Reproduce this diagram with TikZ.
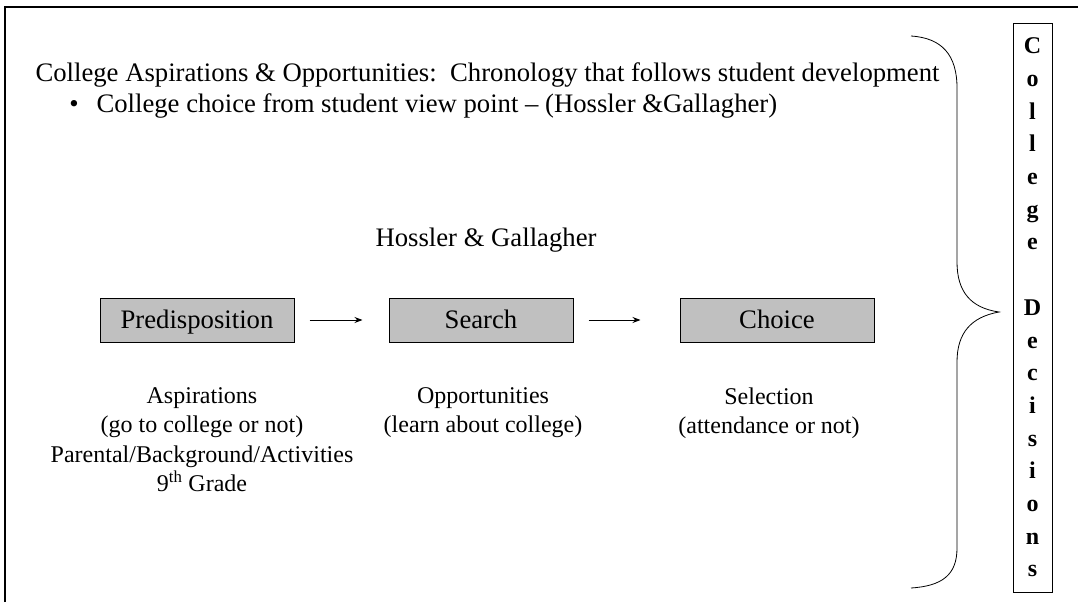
\documentclass[tikz,border=0pt]{standalone}
\usepackage{fontspec}
\setmainfont{Liberation Serif}
\usetikzlibrary{arrows.meta}
\definecolor{boxgray}{RGB}{192,192,192}
\begin{document}
\begin{tikzpicture}[x=1pt,y=-1pt,
    every node/.style={font=\fontsize{26.7}{30}\selectfont},
    stage/.style={draw,line width=1pt,fill=boxgray,minimum height=44,inner sep=0,
      text height=20pt,text depth=4pt},
    note/.style={align=center,anchor=north,font=\fontsize{24}{29.5}\selectfont},
    flow/.style={line width=1pt,-{Stealth[length=8pt,width=6pt]},shorten <=15pt}]
  \useasboundingbox (0,0) rectangle (1078,602);
  \draw[line width=2pt] (5,602) -- (5,7) -- (1078,7);
  \node[anchor=west] (title) at (32,75) {College Aspirations \& Opportunities:\ \ Chronology that follows student development};
  \node (dot) at (74,106) {\textbullet};
  \node[anchor=west] (point) at (93,106) {College choice from student view point -- (Hossler \&Gallagher)};
  \node (head) at (486,240) {Hossler \& Gallagher};
  \node[stage,minimum width=194] (pre) at (197,320) {Predisposition};
  \node[stage,minimum width=184] (search) at (481,320) {Search};
  \node[stage,minimum width=194] (choice) at (777,320) {Choice};
  \draw[flow,shorten >=26pt] (pre) -- (search);
  \draw[flow,shorten >=39pt] (search) -- (choice);
  \node[note] (asp) at (202,384) {Aspirations\\(go to college or not)\\Parental/Background/Activities\\9\textsuperscript{th} Grade};
  \node[note] (opp) at (483,384) {Opportunities\\(learn about college)};
  \node[note] (sel) at (769,384) {Selection\\(attendance or not)};
  % brace towards the side label
  \draw[line width=0.8pt] (911,36) .. controls (942,38) and (957,55) .. (957,88) -- (957,262)
    .. controls (957,292) and (971,308) .. (999,312)
    .. controls (971,317) and (957,333) .. (957,362) -- (957,548)
    .. controls (957,575) and (942,586) .. (911,588);
  \node[draw,line width=0.8pt,minimum width=39,minimum height=569,inner sep=0,align=center,
    font=\bfseries\fontsize{24}{32.7}\selectfont] (side) at (1032.5,307.5)
    {C\\o\\l\\l\\e\\g\\e\\[32.7pt]D\\e\\c\\i\\s\\i\\o\\n\\s};
\end{tikzpicture}
\end{document}
